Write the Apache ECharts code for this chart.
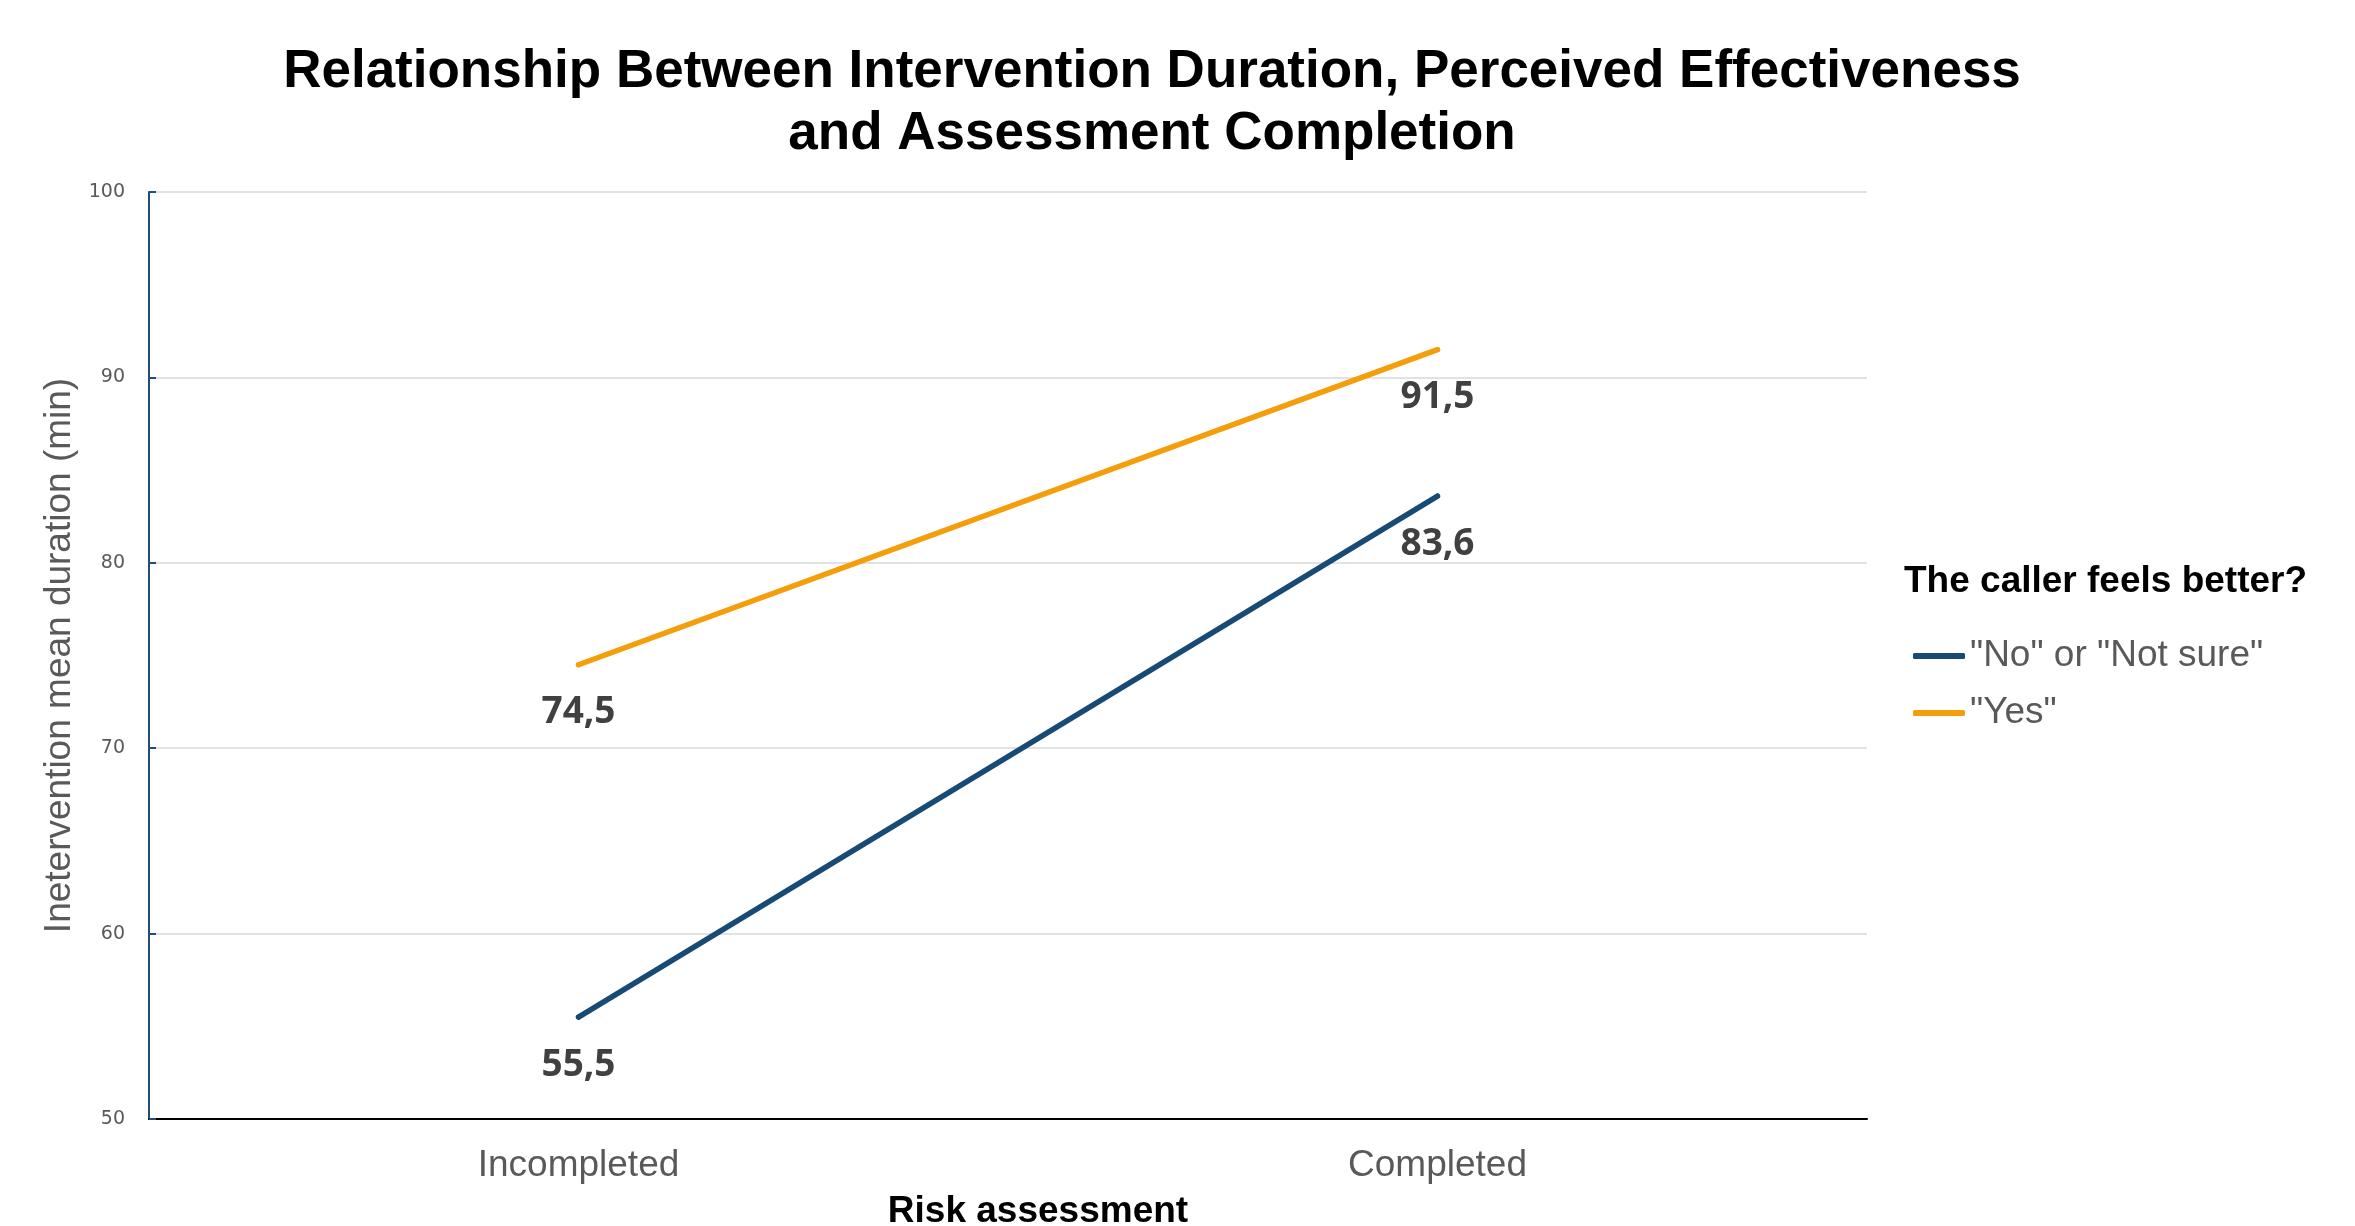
<!DOCTYPE html>
<html>
<head>
<meta charset="utf-8">
<script src="https://cdn.jsdelivr.net/npm/echarts@6/dist/echarts.min.js"></script>
<style>html,body{margin:0;padding:0;background:#fff}#chart{width:2355px;height:1226px}</style>
</head>
<body>
<div id="chart"></div>
<script>
const categories = ["Incompleted", "Completed"];
const seriesNames = ['"No" or "Not sure"', '"Yes"'];
const noValues = [55.5, 83.6];
const yesValues = [74.5, 91.5];
const yTicks = { min: 50, max: 100, interval: 10 };

const chart = echarts.init(document.getElementById('chart'));
const labelStyle = {
  show: true, position: 'bottom', distance: 27,
  fontFamily: 'Open Sans', fontWeight: 'bold', fontSize: 37, color: '#404040',
  formatter: p => String(p.value).replace('.', ',')
};
chart.setOption({
  animation: false,
  backgroundColor: '#ffffff',
  title: [
    { text: 'Relationship Between Intervention Duration, Perceived Effectiveness\nand Assessment Completion',
      left: 1147, top: 36, textAlign: 'center',
      textStyle: { fontFamily: 'Liberation Sans', fontWeight: 'bold', fontSize: 53, lineHeight: 62, color: '#000' } },
    { text: 'Risk assessment', left: 1033, top: 1188, textAlign: 'center',
      textStyle: { fontFamily: 'Liberation Sans', fontWeight: 'bold', fontSize: 37, color: '#000' } },
    { text: 'The caller feels better?', left: 1899, top: 558,
      textStyle: { fontFamily: 'Liberation Sans', fontWeight: 'bold', fontSize: 37, color: '#000' } }
  ],
  legend: {
    orient: 'vertical', left: 1908, top: 630, itemWidth: 52, itemHeight: 6, itemGap: 15,
    icon: 'roundRect',
    textStyle: { fontFamily: 'Liberation Sans', fontSize: 37, color: '#595959', lineHeight: 42 },
    data: seriesNames
  },
  grid: { left: 149, right: 488, top: 192, bottom: 107, containLabel: false },
  xAxis: {
    type: 'category', data: categories, boundaryGap: true,
    axisLine: { lineStyle: { color: '#000', width: 2 } },
    axisTick: { show: false },
    axisLabel: { fontFamily: 'Liberation Sans', fontSize: 37, color: '#595959', margin: 28 }
  },
  yAxis: {
    type: 'value', min: yTicks.min, max: yTicks.max, interval: yTicks.interval,
    name: 'Inetervention mean duration (min)', nameLocation: 'middle', nameGap: 70,
    nameTextStyle: { fontFamily: 'Liberation Sans', fontSize: 37, color: '#595959' },
    axisLine: { show: true, lineStyle: { color: '#1F4E79', width: 2 } },
    axisTick: { show: true, inside: true, length: 7, lineStyle: { color: '#1F4E79', width: 2 } },
    axisLabel: { fontFamily: 'DejaVu Sans', fontSize: 19, color: '#595959', margin: 24 },
    splitLine: { lineStyle: { color: '#D9D9D9', width: 1.5 } }
  },
  series: [
    { name: seriesNames[0], type: 'line', data: noValues, symbol: 'circle', symbolSize: 5, showSymbol: true,
      lineStyle: { color: '#174A74', width: 5.5, cap: 'round' }, itemStyle: { color: '#174A74', borderWidth: 0 },
      label: labelStyle },
    { name: seriesNames[1], type: 'line', data: yesValues, symbol: 'circle', symbolSize: 5, showSymbol: true,
      lineStyle: { color: '#F59E0B', width: 5.5, cap: 'round' }, itemStyle: { color: '#F59E0B', borderWidth: 0 },
      label: labelStyle }
  ]
});
</script>
</body>
</html>
